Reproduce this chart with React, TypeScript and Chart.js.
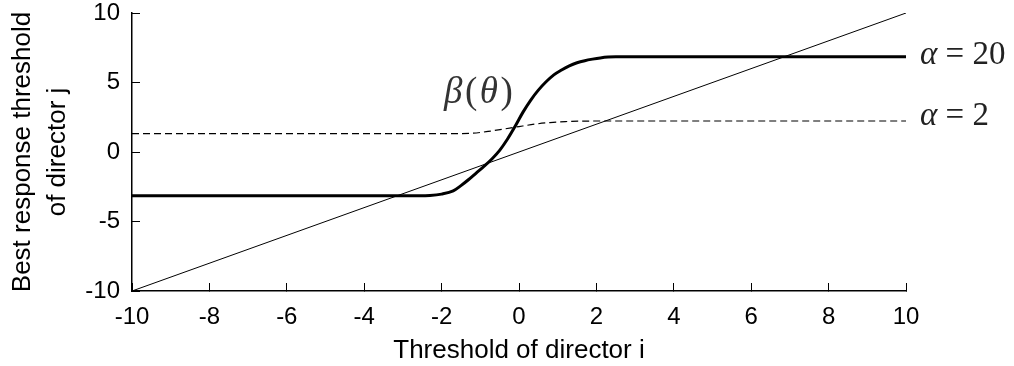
import React, { useEffect, useRef } from "react";
import { Chart, registerables } from "chart.js";

Chart.register(...registerables);

// ---- data ----
const xTickValues = [-10, -8, -6, -4, -2, 0, 2, 4, 6, 8, 10];
const yTickValues = [-10, -5, 0, 5, 10];

const diagonalX = [-10, 10];
const diagonalY = [-10, 10];

// alpha = 20 (thick) best response curve
const steepX = [-10, -2.6, -2.3, -2.0, -1.7, -1.5, -1.3, -1.1, -0.9, -0.7, -0.5, -0.3, -0.1, 0.1, 0.3, 0.5, 0.7, 0.9, 1.1, 1.3, 1.5, 1.7, 1.9, 2.1, 2.3, 2.5, 10];
const steepY = [-3.15, -3.15, -3.13, -3.03, -2.8, -2.42, -1.98, -1.5, -1.02, -0.5, 0.12, 0.92, 1.85, 2.85, 3.72, 4.45, 5.05, 5.55, 5.9, 6.2, 6.42, 6.57, 6.68, 6.77, 6.83, 6.85, 6.85];

// alpha = 2 (dashed) best response curve
const mildX = [-10, -1.6, -1.2, -0.8, -0.4, 0, 0.4, 0.8, 1.2, 1.6, 2.0, 10];
const mildY = [1.32, 1.32, 1.35, 1.48, 1.65, 1.83, 2.0, 2.12, 2.19, 2.22, 2.23, 2.23];

// text annotations (data coordinates)
const curveLabelTexts = ["20", "2"];
const curveLabelY = [6.98, 2.6];
const curveLabelX = [10, 10];
const betaLabelX = -1.05;
const betaLabelY = 4.2;

const toPoints = (xs: number[], ys: number[]) => xs.map((x, i) => ({ x, y: ys[i] }));

const SANS = "'Liberation Sans', Arial, Helvetica, sans-serif";
const SERIF = "'Liberation Serif', 'Times New Roman', serif";

const annotationPlugin = {
  id: "annotations",
  afterDatasetsDraw(chart: any) {
    const { ctx, scales } = chart;
    const xs = scales.x;
    const ys = scales.y;
    ctx.save();
    ctx.fillStyle = "#222";
    ctx.textBaseline = "middle";
    ctx.textAlign = "left";
    // alpha labels
    curveLabelTexts.forEach((t, i) => {
      let px = xs.getPixelForValue(curveLabelX[i]) + 14;
      const py = ys.getPixelForValue(curveLabelY[i]);
      ctx.font = `italic 33px ${SERIF}`;
      ctx.fillText("\u03B1", px, py);
      px += ctx.measureText("\u03B1").width;
      ctx.font = `33px ${SERIF}`;
      ctx.fillText(" = " + t, px, py);
    });
    // beta(theta)
    const segments: [string, boolean][] = [["\u03B2", true], ["(", false], ["\u03B8", true], [")", false]];
    const gap = 2.5;
    let total = 0;
    segments.forEach(([s, it]) => {
      ctx.font = `${it ? "italic " : ""}37px ${SERIF}`;
      total += ctx.measureText(s).width + gap;
    });
    total -= gap;
    let bx = xs.getPixelForValue(betaLabelX) - total / 2;
    const by = ys.getPixelForValue(betaLabelY);
    ctx.fillStyle = "#333";
    segments.forEach(([s, it]) => {
      ctx.font = `${it ? "italic " : ""}37px ${SERIF}`;
      ctx.fillText(s, bx, by);
      bx += ctx.measureText(s).width + gap;
    });
    ctx.restore();
  },
};

export default function App() {
  const canvasRef = useRef<HTMLCanvasElement | null>(null);

  useEffect(() => {
    if (!canvasRef.current) return;
    const chart = new Chart(canvasRef.current, {
      type: "line",
      data: {
        datasets: [
          {
            label: "diagonal",
            data: toPoints(diagonalX, diagonalY),
            borderColor: "#000",
            borderWidth: 1,
            pointRadius: 0,
            fill: false,
          },
          {
            label: "alpha = 2",
            data: toPoints(mildX, mildY),
            borderColor: "#000",
            borderWidth: 1.2,
            borderDash: [7, 4],
            pointRadius: 0,
            cubicInterpolationMode: "monotone",
            fill: false,
          },
          {
            label: "alpha = 20",
            data: toPoints(steepX, steepY),
            borderColor: "#000",
            borderWidth: 3,
            pointRadius: 0,
            cubicInterpolationMode: "monotone",
            fill: false,
          },
        ],
      },
      options: {
        animation: false,
        responsive: true,
        maintainAspectRatio: false,
        layout: { padding: { top: 13, right: 108, left: 0, bottom: 0 } },
        plugins: { legend: { display: false }, tooltip: { enabled: false } },
        scales: {
          x: {
            type: "linear",
            min: -10,
            max: 10,
            afterBuildTicks: (s: any) => {
              s.ticks = xTickValues.map((v) => ({ value: v }));
            },
            afterFit: (s: any) => {
              s.height = 75;
            },
            ticks: {
              color: "#000",
              font: { family: SANS, size: 24 },
              padding: 20,
              maxRotation: 0,
              autoSkip: false,
            },
            grid: {
              display: true,
              drawOnChartArea: false,
              drawTicks: true,
              tickLength: -8,
              tickColor: "#000",
              tickWidth: 1,
            },
            border: { display: true, color: "#000", width: 1.5 },
            title: {
              display: true,
              text: "Threshold of director i",
              color: "#000",
              font: { family: SANS, size: 26, lineHeight: 1.2 },
              padding: { top: 0, bottom: 0 },
            },
          },
          y: {
            type: "linear",
            min: -10,
            max: 10,
            afterBuildTicks: (s: any) => {
              s.ticks = yTickValues.map((v) => ({ value: v }));
            },
            afterFit: (s: any) => {
              s.width = 132;
              s.paddingTop = 0;
              s.paddingBottom = 0;
            },
            ticks: {
              color: "#000",
              font: { family: SANS, size: 24 },
              padding: 20,
              autoSkip: false,
            },
            grid: {
              display: true,
              drawOnChartArea: false,
              drawTicks: true,
              tickLength: -8,
              tickColor: "#000",
              tickWidth: 1,
            },
            border: { display: true, color: "#000", width: 1.5 },
            title: {
              display: true,
              text: ["Best response threshold", "of director j"],
              color: "#000",
              font: { family: SANS, size: 26, lineHeight: 1.35 },
              padding: { top: 5, bottom: 0 },
            },
          },
        },
      },
      plugins: [annotationPlugin],
    } as any);
    return () => chart.destroy();
  }, []);

  return (
    <div style={{ position: "fixed", left: 0, top: 0, width: 1014, height: 366, background: "#fff" }}>
      <canvas ref={canvasRef} />
    </div>
  );
}
